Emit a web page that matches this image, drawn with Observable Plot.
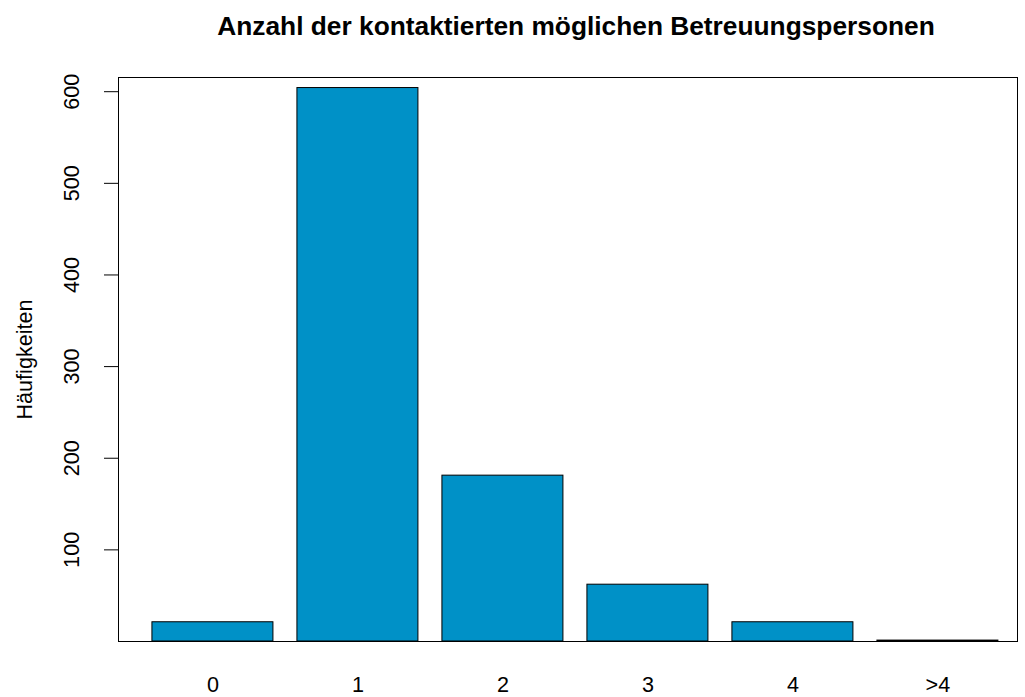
<!DOCTYPE html>
<html>
<head>
<meta charset="utf-8">
<script src="https://cdn.jsdelivr.net/npm/d3@7"></script>
<script src="https://cdn.jsdelivr.net/npm/@observablehq/plot@0.6"></script>
<style>
  html, body { margin: 0; padding: 0; background: #fff; }
  #chart svg { display: block; }
</style>
</head>
<body>
<div id="chart"></div>
<script>
const categories = ["0", "1", "2", "3", "4", ">4"];
const counts = [21, 604, 181, 62, 21, 1];
const yTicks = [100, 200, 300, 400, 500, 600];
const title = "Anzahl der kontaktierten möglichen Betreuungspersonen";
const yLabel = "Häufigkeiten";

const data = categories.map((c, i) => ({category: c, count: counts[i]}));
const font = "'Liberation Sans', Arial, Helvetica, sans-serif";

const chart = Plot.plot({
  width: 1025,
  height: 697,
  marginLeft: 118,
  marginRight: 8,
  marginTop: 77,
  marginBottom: 56,
  style: {fontFamily: font, background: "#fff", color: "#000"},
  x: {domain: categories, paddingInner: 0.1655, paddingOuter: 0.1828, align: 0.64, round: false, axis: null},
  y: {domain: [0, 615.5], axis: null},
  marks: [
    Plot.barY(data, {x: "category", y: "count", fill: "#0091c7", stroke: "#000", strokeWidth: 1}),
    Plot.frame({stroke: "#000", strokeWidth: 1}),
    Plot.axisY({ticks: yTicks, tickSize: 14, tickRotate: -90, tickPadding: 26, fontSize: 21.6, label: null, stroke: "#000"}),
    Plot.axisX({tickSize: 0, tickPadding: 35, fontSize: 21.6, label: null}),
    Plot.text([yLabel], {frameAnchor: "left", rotate: -90, textAnchor: "middle", lineAnchor: "bottom", dx: -87, fontSize: 21.6, fill: "#000"}),
    Plot.text([title], {frameAnchor: "top", textAnchor: "middle", lineAnchor: "bottom", dy: -43, dx: 8, fontSize: 26.3, fontWeight: "bold", fill: "#000"})
  ]
});
document.getElementById("chart").appendChild(chart);
</script>
</body>
</html>
